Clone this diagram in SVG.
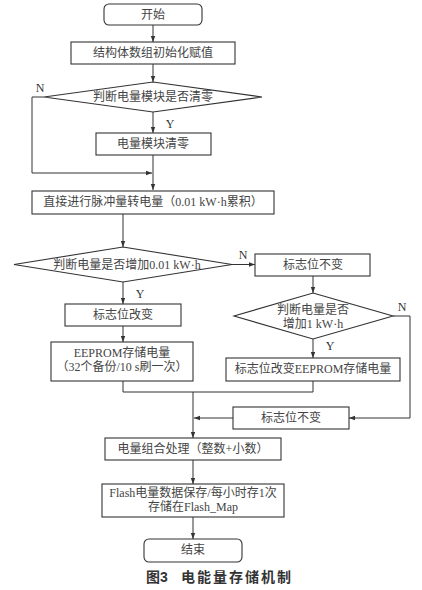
<svg xmlns="http://www.w3.org/2000/svg" width="422" height="590" viewBox="0 0 422 590">
<defs>
<marker id="ah" viewBox="0 0 6 6" refX="6" refY="3" markerWidth="6" markerHeight="6" markerUnits="userSpaceOnUse" orient="auto">
<path d="M0,0.8 L6,3 L0,5.2 Z" fill="#333"/>
</marker>
<style>
.s{fill:#fff;stroke:#333;stroke-width:1.1}
.c{fill:none;stroke:#333;stroke-width:1}
.t{font-family:"Liberation Serif","Noto Sans CJK SC",serif;font-size:12px;fill:#444;text-anchor:middle;dominant-baseline:central}
.l{font-family:"Liberation Serif",serif;font-size:12px;fill:#333;text-anchor:middle;dominant-baseline:central}
.cap{font-family:"Liberation Sans","Noto Sans CJK SC",sans-serif;font-size:14px;font-weight:bold;fill:#333;dominant-baseline:central}
</style>
</defs>
<rect width="422" height="590" fill="#fff"/>
<g id="connectors">
<line class="c" x1="153" y1="25" x2="153" y2="42" marker-end="url(#ah)"/>
<line class="c" x1="153" y1="64" x2="153" y2="82" marker-end="url(#ah)"/>
<line class="c" x1="153" y1="112" x2="153" y2="133" marker-end="url(#ah)"/>
<line class="c" x1="153" y1="155" x2="153" y2="190" marker-end="url(#ah)"/>
<polyline class="c" points="44,97 32,97 32,173 152,173" marker-end="url(#ah)"/>
<line class="c" x1="123" y1="214" x2="123" y2="247" marker-end="url(#ah)"/>
<line class="c" x1="232" y1="264.5" x2="255" y2="264.5" marker-end="url(#ah)"/>
<line class="c" x1="313" y1="276" x2="313" y2="293" marker-end="url(#ah)"/>
<line class="c" x1="123" y1="282" x2="123" y2="304" marker-end="url(#ah)"/>
<line class="c" x1="123" y1="326" x2="123" y2="342" marker-end="url(#ah)"/>
<line class="c" x1="313" y1="339" x2="313" y2="358" marker-end="url(#ah)"/>
<polyline class="c" points="393,316 410,316 410,418 349,418" marker-end="url(#ah)"/>
<polyline class="c" points="123,381 123,392 313,392 313,381"/>
<line class="c" x1="193" y1="392" x2="193" y2="438" marker-end="url(#ah)"/>
<line class="c" x1="233" y1="418" x2="194" y2="418" marker-end="url(#ah)"/>
<line class="c" x1="193" y1="460" x2="193" y2="484" marker-end="url(#ah)"/>
<line class="c" x1="193" y1="517" x2="193" y2="539" marker-end="url(#ah)"/>
<text class="l" x="40" y="88">N</text>
<text class="l" x="170" y="124">Y</text>
<text class="l" x="243" y="255">N</text>
<text class="l" x="140" y="294">Y</text>
<text class="l" x="402" y="307">N</text>
<text class="l" x="330" y="346">Y</text>
</g>
<g id="start"><rect class="s" x="104" y="4" width="98" height="21" rx="5"/><text class="t" x="153" y="15">开始</text></g>
<g id="init"><rect class="s" x="71" y="42" width="164" height="22"/><text class="t" x="153" y="53">结构体数组初始化赋值</text></g>
<g id="dec1"><polygon class="s" points="153,82 262,97 153,112 44,97"/><text class="t" x="153" y="97">判断电量模块是否清零</text></g>
<g id="clear"><rect class="s" x="96" y="133" width="115" height="22"/><text class="t" x="153" y="144">电量模块清零</text></g>
<g id="pulse"><rect class="s" x="32" y="191" width="242" height="23"/><text class="t" x="153" y="202">直接进行脉冲量转电量（0.01 kW·h累积）</text></g>
<g id="dec2"><polygon class="s" points="123,247 232,264.5 123,282 14,264.5"/><text class="t" x="127" y="265">判断电量是否增加0.01 kW·h</text></g>
<g id="flag1"><rect class="s" x="255" y="254" width="115" height="22"/><text class="t" x="313" y="265">标志位不变</text></g>
<g id="flagchg"><rect class="s" x="65" y="304" width="116" height="22"/><text class="t" x="123" y="315">标志位改变</text></g>
<g id="dec3"><polygon class="s" points="313,293 393,316 313,339 234,316"/><text class="t" x="313" y="310">判断电量是否</text><text class="t" x="313" y="324">增加1 kW·h</text></g>
<g id="eeprom"><rect class="s" x="51" y="342" width="142" height="39"/><text class="t" x="122" y="353">EEPROM存储电量</text><text class="t" x="122" y="367">（32个备份/10 s刷一次）</text></g>
<g id="flagee"><rect class="s" x="226" y="358" width="174" height="23"/><text class="t" x="313" y="369">标志位改变EEPROM存储电量</text></g>
<g id="flag2"><rect class="s" x="233" y="407" width="116" height="22"/><text class="t" x="291" y="418">标志位不变</text></g>
<g id="combine"><rect class="s" x="105" y="438" width="176" height="22"/><text class="t" x="193" y="449">电量组合处理（整数+小数）</text></g>
<g id="flash"><rect class="s" x="102" y="484" width="182" height="33"/><text class="t" x="193" y="493">Flash电量数据保存/每小时存1次</text><text class="t" x="193" y="507">存储在Flash_Map</text></g>
<g id="end"><rect class="s" x="144" y="539" width="98" height="23" rx="5"/><text class="t" x="193" y="550">结束</text></g>
<text class="cap" y="577"><tspan x="146">图3</tspan><tspan x="181" letter-spacing="2">电能量存储机制</tspan></text>
</svg>
